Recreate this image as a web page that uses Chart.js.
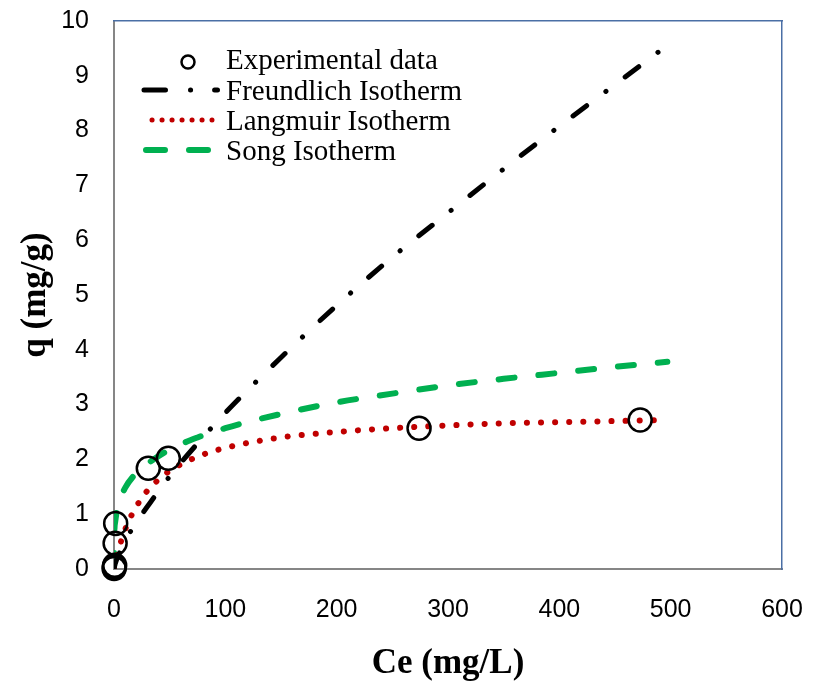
<!DOCTYPE html>
<html>
<head>
<meta charset="utf-8">
<script src="https://cdn.jsdelivr.net/npm/chart.js@4.4.1/dist/chart.umd.min.js"></script>
<style>
  html, body { margin: 0; padding: 0; background: #fff; }
  #wrap { position: relative; width: 813px; height: 687px; }
  #legend { position: absolute; left: 0; top: 0; pointer-events: none; }
</style>
</head>
<body>
<div id="wrap">
  <canvas id="c" width="813" height="687"></canvas>
  <svg id="legend" width="813" height="687" xmlns="http://www.w3.org/2000/svg"></svg>
</div>
<script>
// ---- data ----
const xTicks = [0, 100, 200, 300, 400, 500, 600];
const yTicks = [0, 1, 2, 3, 4, 5, 6, 7, 8, 9, 10];

const seriesNames = ["Experimental data", "Freundlich Isotherm", "Langmuir Isotherm", "Song Isotherm"];

const ceExp = [0.1, 0.3, 0.6, 1.0, 1.5, 30.8, 48.8, 274, 472.6];
const qExp  = [0.01, 0.04, 0.07, 0.47, 0.83, 1.84, 2.02, 2.57, 2.72];

const ceFreundlich = [0, 1, 5, 10, 15, 20, 30, 50, 75, 100, 150, 200, 250, 300, 350, 400, 450, 490];
const qFreundlich  = [0, 0.09, 0.30, 0.50, 0.69, 0.85, 1.14, 1.69, 2.29, 2.85, 3.86, 4.81, 5.69, 6.50, 7.30, 8.08, 8.84, 9.45];

const ceLangmuir = [0, 1, 2, 4, 7, 10, 15, 20, 30, 40, 50, 75, 100, 150, 200, 250, 300, 350, 400, 450, 497];
const qLangmuir  = [0, 0.09, 0.18, 0.33, 0.55, 0.72, 0.95, 1.14, 1.43, 1.63, 1.79, 2.05, 2.21, 2.40, 2.50, 2.57, 2.62, 2.66, 2.68, 2.70, 2.72];

const ceSong = [0, 0.3, 1, 2.7, 5, 10, 20, 30, 50, 75, 100, 150, 200, 250, 300, 350, 400, 450, 497];
const qSong  = [0, 0.64, 0.85, 1.08, 1.25, 1.48, 1.75, 1.92, 2.18, 2.40, 2.57, 2.83, 3.04, 3.20, 3.35, 3.47, 3.58, 3.69, 3.78];

// ---- styles ----
const colExp = '#000000';
const colFreundlich = '#000000';
const colLangmuir = '#C00000';
const colSong = '#00B050';
const dashFreundlich = [17, 24, 0.1, 24];
const dashLangmuir = [0.1, 14];
const dashSong = [16, 24];

function pts(xs, ys) { return xs.map((x, i) => ({ x: x, y: ys[i] })); }
function noPad(s) { s.paddingTop = 0; s.paddingBottom = 0; s.paddingLeft = 0; s.paddingRight = 0; }

const tickFont = { family: "'Liberation Sans', Arial, sans-serif", size: 25 };
const titleFont = { family: "'Liberation Serif', 'Times New Roman', serif", size: 35, weight: 'bold' };

const chart = new Chart(document.getElementById('c'), {
  type: 'scatter',
  data: {
    datasets: [
      {
        label: seriesNames[0],
        data: pts(ceExp, qExp),
        showLine: false,
        pointStyle: 'circle',
        pointRadius: 11.5,
        pointHoverRadius: 11.5,
        pointBorderWidth: 2.5,
        pointBorderColor: colExp,
        pointBackgroundColor: 'rgba(0,0,0,0)',
        clip: false
      },
      {
        label: seriesNames[1],
        data: pts(ceFreundlich, qFreundlich),
        showLine: true,
        pointRadius: 0,
        borderColor: colFreundlich,
        borderWidth: 5,
        borderDash: dashFreundlich,
        borderCapStyle: 'round',
        cubicInterpolationMode: 'monotone'
      },
      {
        label: seriesNames[2],
        data: pts(ceLangmuir, qLangmuir),
        showLine: true,
        pointRadius: 0,
        borderColor: colLangmuir,
        borderWidth: 6,
        borderDash: dashLangmuir,
        borderCapStyle: 'round',
        cubicInterpolationMode: 'monotone'
      },
      {
        label: seriesNames[3],
        data: pts(ceSong, qSong),
        showLine: true,
        pointRadius: 0,
        borderColor: colSong,
        borderWidth: 6,
        borderDash: dashSong,
        borderCapStyle: 'round',
        cubicInterpolationMode: 'monotone'
      }
    ]
  },
  options: {
    responsive: false,
    animation: false,
    events: [],
    layout: { padding: { top: 21, right: 31, left: 0, bottom: 0 } },
    plugins: { legend: { display: false }, tooltip: { enabled: false } },
    scales: {
      x: {
        type: 'linear',
        position: 'bottom',
        min: xTicks[0],
        max: xTicks[xTicks.length - 1],
        afterBuildTicks: (s) => { s.ticks = xTicks.map(v => ({ value: v })); },
        ticks: { font: tickFont, color: '#000', padding: 26, maxRotation: 0, autoSkip: false },
        grid: { display: false, drawTicks: false },
        border: { display: true, color: '#868686', width: 2 },
        title: { display: true, text: 'Ce (mg/L)', font: titleFont, color: '#000', padding: { top: 0, bottom: 2 } },
        afterFit: (s) => { s.height = 118; noPad(s); }
      },
      y: {
        type: 'linear',
        position: 'left',
        min: yTicks[0],
        max: yTicks[yTicks.length - 1],
        afterBuildTicks: (s) => { s.ticks = yTicks.map(v => ({ value: v })); },
        ticks: { font: tickFont, color: '#000', padding: 25, autoSkip: false },
        grid: { display: false, drawTicks: false },
        border: { display: true, color: '#868686', width: 2 },
        title: { display: true, text: 'q (mg/g)', font: titleFont, color: '#000', padding: { top: 15, bottom: 0 } },
        afterFit: (s) => { s.width = 114; noPad(s); }
      },
      xTop: {
        type: 'linear',
        position: 'top',
        min: xTicks[0],
        max: xTicks[xTicks.length - 1],
        ticks: { display: false },
        grid: { display: false, drawTicks: false },
        border: { display: true, color: '#4A6FA5', width: 1.5 },
        afterFit: (s) => { s.height = 0; noPad(s); }
      },
      yRight: {
        type: 'linear',
        position: 'right',
        min: yTicks[0],
        max: yTicks[yTicks.length - 1],
        ticks: { display: false },
        grid: { display: false, drawTicks: false },
        border: { display: true, color: '#4A6FA5', width: 1.5 },
        afterFit: (s) => { s.width = 0; noPad(s); }
      }
    }
  }
});

// ---- legend (SVG overlay, real text) ----
const svg = document.getElementById('legend');
const NS = 'http://www.w3.org/2000/svg';
function el(tag, attrs) {
  const e = document.createElementNS(NS, tag);
  for (const k in attrs) e.setAttribute(k, attrs[k]);
  svg.appendChild(e);
  return e;
}
const legendRows = [
  { y: 62, base: 69 },
  { y: 90, base: 100 },
  { y: 120, base: 130 },
  { y: 150, base: 160 }
];
// symbols
el('circle', { cx: 188, cy: legendRows[0].y, r: 6.5, fill: 'none', stroke: colExp, 'stroke-width': 2.5 });
el('line', { x1: 144, y1: legendRows[1].y, x2: 217.5, y2: legendRows[1].y, stroke: colFreundlich, 'stroke-width': 5,
  'stroke-linecap': 'round', 'stroke-dasharray': '21.5 25 0.1 24' });
el('line', { x1: 152, y1: legendRows[2].y, x2: 212, y2: legendRows[2].y, stroke: colLangmuir, 'stroke-width': 5,
  'stroke-linecap': 'round', 'stroke-dasharray': '0.1 9.9' });
el('line', { x1: 146, y1: legendRows[3].y, x2: 208, y2: legendRows[3].y, stroke: colSong, 'stroke-width': 6,
  'stroke-linecap': 'round', 'stroke-dasharray': '19 24' });
seriesNames.forEach((name, i) => {
  const t = el('text', { x: 226, y: legendRows[i].base, fill: '#000',
    'font-family': "'Liberation Serif', 'Times New Roman', serif", 'font-size': 29 });
  t.textContent = name;
});
</script>
</body>
</html>
